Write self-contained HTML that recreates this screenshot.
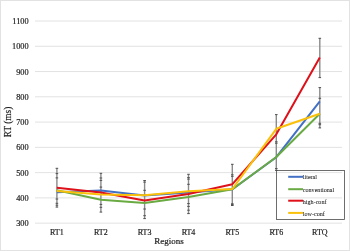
<!DOCTYPE html><html><head><meta charset="utf-8"><style>html,body{margin:0;padding:0;background:#fff}svg{display:block;will-change:transform;filter:blur(0.3px)}text{font-family:"Liberation Serif",serif;fill:#1a1a1a;stroke:#1a1a1a;stroke-width:0.18px}</style></head><body>
<svg width="350" height="251" viewBox="0 0 350 251">
<rect x="0.5" y="0.5" width="349" height="250" fill="#fff" stroke="#e2e2e2" stroke-width="1"/>
<line x1="35" y1="21.00" x2="342" y2="21.00" stroke="#dfdfdf" stroke-width="0.9"/>
<text x="28.6" y="24.00" font-size="8.3" text-anchor="end">1100</text>
<line x1="35" y1="46.27" x2="342" y2="46.27" stroke="#dfdfdf" stroke-width="0.9"/>
<text x="28.6" y="49.27" font-size="8.3" text-anchor="end">1000</text>
<line x1="35" y1="71.54" x2="342" y2="71.54" stroke="#dfdfdf" stroke-width="0.9"/>
<text x="28.6" y="74.54" font-size="8.3" text-anchor="end">900</text>
<line x1="35" y1="96.81" x2="342" y2="96.81" stroke="#dfdfdf" stroke-width="0.9"/>
<text x="28.6" y="99.81" font-size="8.3" text-anchor="end">800</text>
<line x1="35" y1="122.08" x2="342" y2="122.08" stroke="#dfdfdf" stroke-width="0.9"/>
<text x="28.6" y="125.08" font-size="8.3" text-anchor="end">700</text>
<line x1="35" y1="147.35" x2="342" y2="147.35" stroke="#dfdfdf" stroke-width="0.9"/>
<text x="28.6" y="150.35" font-size="8.3" text-anchor="end">600</text>
<line x1="35" y1="172.62" x2="342" y2="172.62" stroke="#dfdfdf" stroke-width="0.9"/>
<text x="28.6" y="175.62" font-size="8.3" text-anchor="end">500</text>
<line x1="35" y1="197.89" x2="342" y2="197.89" stroke="#dfdfdf" stroke-width="0.9"/>
<text x="28.6" y="200.89" font-size="8.3" text-anchor="end">400</text>
<line x1="35" y1="223.16" x2="342" y2="223.16" stroke="#dfdfdf" stroke-width="0.9"/>
<text x="28.6" y="226.16" font-size="8.3" text-anchor="end">300</text>
<text x="56.8" y="235" font-size="8" text-anchor="middle">RT1</text>
<text x="100.9" y="235" font-size="8" text-anchor="middle">RT2</text>
<text x="144.6" y="235" font-size="8" text-anchor="middle">RT3</text>
<text x="188.5" y="235" font-size="8" text-anchor="middle">RT4</text>
<text x="232.4" y="235" font-size="8" text-anchor="middle">RT5</text>
<text x="276.3" y="235" font-size="8" text-anchor="middle">RT6</text>
<text x="319.8" y="235" font-size="8" text-anchor="middle">RTQ</text>
<text x="169" y="243.6" font-size="9" text-anchor="middle">Regions</text>
<text transform="translate(11,122) rotate(-90)" font-size="9.3" text-anchor="middle">RT (ms)</text>
<line x1="56.9" y1="168.3" x2="56.9" y2="207.1" stroke="#8a8a8a" stroke-width="1.4"/>
<line x1="55.6" y1="168.3" x2="58.199999999999996" y2="168.3" stroke="#505050" stroke-width="1"/>
<line x1="55.6" y1="207.1" x2="58.199999999999996" y2="207.1" stroke="#505050" stroke-width="1"/>
<line x1="55.6" y1="173.6" x2="58.199999999999996" y2="173.6" stroke="#505050" stroke-width="1"/>
<line x1="55.6" y1="177.9" x2="58.199999999999996" y2="177.9" stroke="#505050" stroke-width="1"/>
<line x1="55.6" y1="199" x2="58.199999999999996" y2="199" stroke="#505050" stroke-width="1"/>
<line x1="55.6" y1="203.3" x2="58.199999999999996" y2="203.3" stroke="#505050" stroke-width="1"/>
<line x1="55.6" y1="205.2" x2="58.199999999999996" y2="205.2" stroke="#505050" stroke-width="1"/>
<line x1="100.9" y1="173.3" x2="100.9" y2="212.1" stroke="#8a8a8a" stroke-width="1.4"/>
<line x1="99.60000000000001" y1="173.3" x2="102.2" y2="173.3" stroke="#505050" stroke-width="1"/>
<line x1="99.60000000000001" y1="212.1" x2="102.2" y2="212.1" stroke="#505050" stroke-width="1"/>
<line x1="99.60000000000001" y1="178" x2="102.2" y2="178" stroke="#505050" stroke-width="1"/>
<line x1="99.60000000000001" y1="180.4" x2="102.2" y2="180.4" stroke="#505050" stroke-width="1"/>
<line x1="99.60000000000001" y1="187.1" x2="102.2" y2="187.1" stroke="#505050" stroke-width="1"/>
<line x1="99.60000000000001" y1="204.4" x2="102.2" y2="204.4" stroke="#505050" stroke-width="1"/>
<line x1="99.60000000000001" y1="207.3" x2="102.2" y2="207.3" stroke="#505050" stroke-width="1"/>
<line x1="144.6" y1="180.5" x2="144.6" y2="218.6" stroke="#8a8a8a" stroke-width="1.4"/>
<line x1="143.29999999999998" y1="180.5" x2="145.9" y2="180.5" stroke="#505050" stroke-width="1"/>
<line x1="143.29999999999998" y1="218.6" x2="145.9" y2="218.6" stroke="#505050" stroke-width="1"/>
<line x1="143.29999999999998" y1="182.1" x2="145.9" y2="182.1" stroke="#505050" stroke-width="1"/>
<line x1="143.29999999999998" y1="190.3" x2="145.9" y2="190.3" stroke="#505050" stroke-width="1"/>
<line x1="143.29999999999998" y1="209" x2="145.9" y2="209" stroke="#505050" stroke-width="1"/>
<line x1="143.29999999999998" y1="215.7" x2="145.9" y2="215.7" stroke="#505050" stroke-width="1"/>
<line x1="188.5" y1="174.3" x2="188.5" y2="213.6" stroke="#8a8a8a" stroke-width="1.4"/>
<line x1="187.2" y1="174.3" x2="189.8" y2="174.3" stroke="#505050" stroke-width="1"/>
<line x1="187.2" y1="213.6" x2="189.8" y2="213.6" stroke="#505050" stroke-width="1"/>
<line x1="187.2" y1="177.6" x2="189.8" y2="177.6" stroke="#505050" stroke-width="1"/>
<line x1="187.2" y1="179.1" x2="189.8" y2="179.1" stroke="#505050" stroke-width="1"/>
<line x1="187.2" y1="184.3" x2="189.8" y2="184.3" stroke="#505050" stroke-width="1"/>
<line x1="187.2" y1="203.6" x2="189.8" y2="203.6" stroke="#505050" stroke-width="1"/>
<line x1="187.2" y1="206.4" x2="189.8" y2="206.4" stroke="#505050" stroke-width="1"/>
<line x1="187.2" y1="210.2" x2="189.8" y2="210.2" stroke="#505050" stroke-width="1"/>
<line x1="232.3" y1="164.3" x2="232.3" y2="205.5" stroke="#8a8a8a" stroke-width="1.4"/>
<line x1="231.0" y1="164.3" x2="233.60000000000002" y2="164.3" stroke="#505050" stroke-width="1"/>
<line x1="231.0" y1="205.5" x2="233.60000000000002" y2="205.5" stroke="#505050" stroke-width="1"/>
<line x1="231.0" y1="174.8" x2="233.60000000000002" y2="174.8" stroke="#505050" stroke-width="1"/>
<line x1="231.0" y1="176.3" x2="233.60000000000002" y2="176.3" stroke="#505050" stroke-width="1"/>
<line x1="231.0" y1="203.8" x2="233.60000000000002" y2="203.8" stroke="#505050" stroke-width="1"/>
<line x1="231.0" y1="204.6" x2="233.60000000000002" y2="204.6" stroke="#505050" stroke-width="1"/>
<line x1="276.3" y1="114.6" x2="276.3" y2="170.4" stroke="#8a8a8a" stroke-width="1.4"/>
<line x1="275.0" y1="114.6" x2="277.6" y2="114.6" stroke="#505050" stroke-width="1"/>
<line x1="275.0" y1="170.4" x2="277.6" y2="170.4" stroke="#505050" stroke-width="1"/>
<line x1="275.0" y1="141.8" x2="277.6" y2="141.8" stroke="#505050" stroke-width="1"/>
<line x1="275.0" y1="143.2" x2="277.6" y2="143.2" stroke="#505050" stroke-width="1"/>
<line x1="275.0" y1="168.6" x2="277.6" y2="168.6" stroke="#505050" stroke-width="1"/>
<line x1="319.8" y1="38.3" x2="319.8" y2="77.6" stroke="#8a8a8a" stroke-width="1.4"/>
<line x1="318.5" y1="38.3" x2="321.1" y2="38.3" stroke="#505050" stroke-width="1"/>
<line x1="318.5" y1="77.6" x2="321.1" y2="77.6" stroke="#505050" stroke-width="1"/>
<line x1="319.8" y1="87.6" x2="319.8" y2="127.9" stroke="#8a8a8a" stroke-width="1.4"/>
<line x1="318.5" y1="87.6" x2="321.1" y2="87.6" stroke="#505050" stroke-width="1"/>
<line x1="318.5" y1="127.9" x2="321.1" y2="127.9" stroke="#505050" stroke-width="1"/>
<line x1="318.5" y1="98.3" x2="321.1" y2="98.3" stroke="#505050" stroke-width="1"/>
<line x1="318.5" y1="123.3" x2="321.1" y2="123.3" stroke="#505050" stroke-width="1"/>
<line x1="318.5" y1="124.7" x2="321.1" y2="124.7" stroke="#505050" stroke-width="1"/>
<polyline points="56.8,192.3 100.9,190.6 144.6,195.4 188.5,192.6 232.4,189.2 276.3,157.2 319.8,101.4" fill="none" stroke="#4170C4" stroke-width="2.0" stroke-linejoin="round"/>
<polyline points="56.8,190.2 100.9,199.8 144.6,202.9 188.5,197.1 232.4,189.3 276.3,157.0 319.8,113.8" fill="none" stroke="#6AAA42" stroke-width="2.0" stroke-linejoin="round"/>
<polyline points="56.8,187.7 100.9,192.4 144.6,200.4 188.5,194.1 232.4,184.2 276.3,134.3 319.8,57.4" fill="none" stroke="#DE1019" stroke-width="2.0" stroke-linejoin="round"/>
<polyline points="56.8,190.9 100.9,194.5 144.6,195.2 188.5,191.3 232.4,189.0 276.3,128.8 319.8,113.8" fill="none" stroke="#FAC00A" stroke-width="2.0" stroke-linejoin="round"/>
<rect x="276.5" y="170.5" width="68" height="49" fill="none" stroke="#4a4a4a" stroke-width="0.8"/>
<line x1="288.2" y1="176.8" x2="303" y2="176.8" stroke="#4170C4" stroke-width="2.0"/>
<text x="302.8" y="179.4" font-size="6.1" style="stroke-width:0.05px">literal</text>
<line x1="288.2" y1="189.2" x2="303" y2="189.2" stroke="#6AAA42" stroke-width="2.0"/>
<text x="302.8" y="191.8" font-size="6.1" style="stroke-width:0.05px">conventional</text>
<line x1="288.2" y1="200.7" x2="303" y2="200.7" stroke="#DE1019" stroke-width="2.0"/>
<text x="302.8" y="204.0" font-size="6.1" style="stroke-width:0.05px">high-conf</text>
<line x1="288.2" y1="212.9" x2="303" y2="212.9" stroke="#FAC00A" stroke-width="2.0"/>
<text x="302.8" y="215.5" font-size="6.1" style="stroke-width:0.05px">low-conf</text>
</svg></body></html>
